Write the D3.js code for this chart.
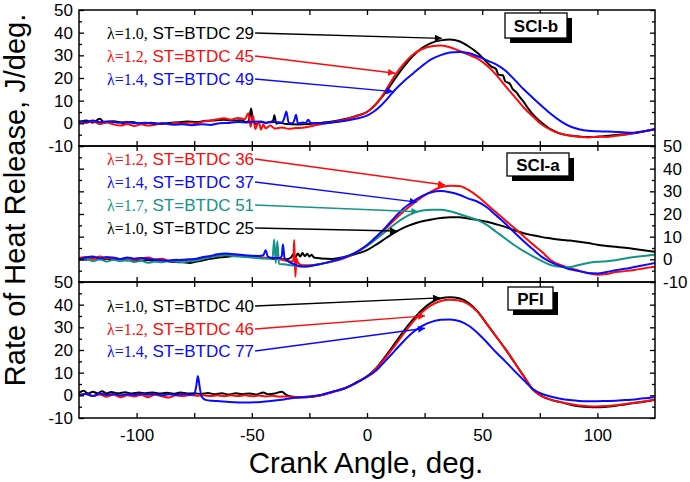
<!DOCTYPE html>
<html><head><meta charset="utf-8">
<script src="https://cdn.jsdelivr.net/npm/d3@7"></script>
<style>
body{margin:0;background:#fff}
svg{display:block}
text{font-family:"Liberation Sans",Arial,sans-serif;fill:#000}
</style>
</head><body>
<svg id="chart" width="690" height="482"></svg>
<script>
// ---------------- DATA ----------------
const angleDomain = [-125, 125];
const rhrDomain = [-10, 50];
const xTickValues = [-100, -50, 0, 50, 100];
const yTickValues = [-10, 0, 10, 20, 30, 40, 50];
const panelNames = ["SCI-b", "SCI-a", "PFI"];

// SCI-b panel
const sciB_lambda = ["λ=1.0,", "λ=1.2,", "λ=1.4,"];
const sciB_st = ["ST=BTDC 29", "ST=BTDC 45", "ST=BTDC 49"];
const sciB_arrowTo = [[32.5, 37.5], [12.2, 22.1], [11.4, 14.0]];
const sciB_l10 = [[-125,0.5],[-122,1.2],[-119,0.3],[-116,2],[-114,0.4],[-110,0.9],[-106,0.2],[-102,0.6],[-98,-0.2],[-94,0.3],[-90,-0.3],[-86,0.2],[-82,0.5],[-78,0.8],[-74,0.6],[-70,1.1],[-66,1.3],[-62,1.6],[-58,1.2],[-55,1.4],[-52,0.6],[-51,2.5],[-50.3,6.5],[-49.5,0.8],[-48,-0.3],[-46,0.8],[-44,0.2],[-42,0.6],[-40.8,1],[-40.2,3.6],[-39.4,-0.2],[-38,0.3],[-35,-0.3],[-30,-0.5],[-25,-0.3],[-20,0.2],[-15,0.8],[-10,1.8],[-5,3.2],[0,5],[3,7.5],[6,11],[9,15],[12,19.5],[16,25],[20,29.8],[24,33.3],[28,35.5],[32,36.6],[36,37],[40,36.2],[44,34],[48,31],[51,28],[54,25],[56,24],[57,21.5],[59,21.2],[60,18.5],[62,17.5],[63,15.5],[65,13.5],[66,12],[68,9.5],[70,6.5],[72.4,3.5],[75,1],[79.6,-2.6],[83,-4.2],[86.8,-5.2],[90,-5.6],[94,-6],[98,-6],[101,-5.8],[105,-5.5],[108,-5.2],[112,-4.8],[115.8,-4.4],[120,-3.6],[125,-2.6]];
const sciB_l12 = [[-125,0.6],[-122,0.2],[-119,0.9],[-116,-0.3],[-113,0.4],[-110,-0.5],[-107,-1],[-104,-0.3],[-101,-1.2],[-98,-0.4],[-95,-1],[-92,-0.6],[-89,0],[-86,-0.4],[-83,0.3],[-80,-0.1],[-77,0.4],[-74,0],[-71,0.8],[-68,1.2],[-65,1.8],[-62,2.2],[-59,1.6],[-56,2.4],[-53,1.8],[-51.5,4.5],[-50.5,-1.5],[-49.5,3.5],[-48.5,-2.5],[-47,0.8],[-46,-2.8],[-45,-0.5],[-44,-2.2],[-42,-1],[-40,-2.3],[-37,-1.8],[-34,-2.4],[-31,-2.1],[-28,-2],[-25,-1.4],[-20,-0.4],[-15,0.5],[-10,1.5],[-5,3],[0,5],[3,7.5],[6,11.2],[9,16],[12,21],[16,26.3],[20,30.4],[24,32.8],[28,34],[32,34.3],[36,33.6],[40,32],[44,30.3],[48,28.5],[52,25.5],[56,21.5],[60,16.5],[64,11.8],[68,7],[72,3],[76,-0.6],[80,-3],[84,-4.6],[88,-5.5],[92,-5.9],[96,-6.2],[100,-5.9],[104,-6],[108,-5.5],[112,-5],[116,-4.3],[120,-3.6],[125,-2.5]];
const sciB_l14 = [[-125,1],[-122,0.6],[-119,1.2],[-116,0.5],[-112,0.9],[-108,0.3],[-104,0.6],[-100,0],[-96,0.3],[-92,-0.2],[-88,0],[-84,-0.6],[-80,-0.4],[-76,-0.8],[-72,-0.4],[-68,-0.7],[-64,0],[-60,0.2],[-56,0.6],[-52,0.4],[-48,0.8],[-44,0.3],[-40,0.6],[-37,0.4],[-36,2],[-35,5.2],[-34,0.3],[-32.5,0],[-31.5,1.5],[-30.8,3.8],[-30,0],[-28,0.4],[-26.5,0.2],[-25.5,1.6],[-24.5,0.2],[-20,0],[-15,0.4],[-10,1],[-5,2],[0,3.4],[3,5.2],[6,7.8],[9,11],[12,14.6],[16,18.6],[20,22],[24,25.4],[28,28.3],[32,30.1],[36,31.2],[40,31.5],[44,31],[48,29.6],[52,27.8],[56,26],[60,23.3],[64,19.3],[68,15],[72,11.2],[76,7.5],[80,4],[84,1],[88,-1.3],[92,-2.6],[96,-3.3],[100,-3.5],[104,-3.6],[108,-3.8],[112,-4],[116,-4.1],[120,-3.5],[125,-2.6]];

// SCI-a panel
const sciA_lambda = ["λ=1.2,", "λ=1.4,", "λ=1.7,", "λ=1.0,"];
const sciA_st = ["ST=BTDC 36", "ST=BTDC 37", "ST=BTDC 51", "ST=BTDC 25"];
const sciA_arrowTo = [[33.9, 32.8], [21.6, 25.2], [22.3, 21.0], [13.0, 12.5]];
const sciA_l12 = [[-125,0.6],[-122,1],[-119,0.2],[-116,1.2],[-113,0.4],[-110,0.8],[-107,0],[-104,0.6],[-101,-0.2],[-98,0.4],[-95,0.8],[-92,0],[-89,0.3],[-86,-0.5],[-83,-0.2],[-80,-0.4],[-77,-0.6],[-74,-0.2],[-71,0.5],[-68,1],[-65,1.6],[-62,2],[-59,2.1],[-56,1.8],[-53,1.4],[-50,1.1],[-47,0.9],[-44,0.7],[-41,0.5],[-38,0],[-35,-0.6],[-33,-1],[-32,-0.5],[-31.6,8.5],[-31.1,-7.7],[-30.6,0.5],[-30,-1.5],[-28,-2.6],[-25,-2.6],[-20,-2],[-15,-1],[-10,0.4],[-5,2.8],[0,6],[4,9.5],[8,13.5],[12,17.5],[16,21.2],[20,24.5],[24,27.5],[28,30],[32,31.8],[36,32.5],[40,32.4],[44,30.6],[48,27.8],[52,24.3],[56,20.8],[60,17.2],[64,13.8],[68,10.2],[72,6.6],[76,3.2],[80,-0.5],[84,-2.5],[88,-3.8],[92,-5],[96,-6.2],[100,-6.8],[104,-6.5],[108,-5.6],[112,-5.2],[116,-4.7],[120,-4],[125,-3.3]];
const sciA_l14 = [[-125,0],[-122,0.8],[-119,1.2],[-116,0.5],[-113,1],[-110,0.6],[-107,0.2],[-104,0.8],[-101,0.3],[-98,0.6],[-95,0.2],[-92,-0.2],[-89,-0.4],[-86,-0.6],[-83,-0.3],[-80,-0.2],[-77,0],[-74,0.3],[-71,1],[-68,1.5],[-65,2.2],[-62,2.6],[-59,2.4],[-56,2.1],[-53,1.8],[-50,1.6],[-47,1.5],[-45,1.8],[-44,4],[-43,1.2],[-41,0.6],[-38,0.6],[-37,1.5],[-36.5,6.6],[-35.8,0.6],[-34,-1],[-31,-2.4],[-28,-3.2],[-25,-3],[-20,-2],[-15,-0.8],[-10,0.8],[-5,3],[0,6.3],[4,10],[8,14],[12,18.5],[16,22.5],[20,25.5],[24,28],[28,29.6],[32,30.1],[36,29.6],[40,28.5],[44,26.8],[48,25.4],[52,23],[56,19.4],[60,15.8],[64,11.8],[68,8],[72,4.4],[76,1],[80,-1.3],[84,-3],[88,-4.4],[92,-5.2],[96,-6],[100,-6.2],[104,-5.6],[108,-4.8],[112,-4.2],[116,-3.4],[120,-2.6],[125,-1.6]];
const sciA_l17 = [[-125,-0.4],[-122,0.3],[-119,-0.8],[-116,0],[-113,-1],[-110,-0.2],[-107,-0.8],[-104,-0.3],[-101,-1.2],[-98,-0.6],[-95,-1.5],[-92,-1],[-89,-1.3],[-86,-0.7],[-83,-1],[-80,-1.2],[-77,-0.8],[-74,-0.5],[-71,0.2],[-68,1],[-65,1.4],[-62,1.8],[-59,1.6],[-56,1.3],[-53,1],[-50,0.8],[-47,0.5],[-44,0.4],[-41,0.5],[-40.3,8.8],[-39.6,-1.6],[-38.9,8],[-38.2,-2],[-36,-2.2],[-33,-2.6],[-30,-3],[-27,-3.2],[-24,-2.8],[-20,-2],[-15,-0.8],[-10,0.8],[-5,3],[0,6],[4,9],[8,12.2],[12,15.5],[16,18.3],[20,20.4],[24,21.5],[28,21.9],[32,21.9],[36,21.2],[40,20],[44,18.7],[48,17.3],[52,15.2],[56,12.2],[60,9.2],[64,6.2],[68,3.6],[72,1.3],[76,-0.8],[80,-2.6],[84,-3.3],[88,-3.4],[92,-2.5],[96,-1.6],[100,-1.1],[104,-0.8],[108,-0.4],[112,0.4],[116,1],[120,1.5],[125,2]];
const sciA_l10 = [[-125,0.4],[-122,-0.2],[-119,0.6],[-116,0],[-113,0.3],[-110,-0.2],[-107,0.2],[-104,-0.5],[-101,-0.2],[-98,-0.6],[-95,-0.3],[-92,-0.8],[-89,-0.5],[-86,-1],[-83,-1.2],[-80,-1.3],[-77,-1.6],[-74,-1],[-71,-0.4],[-68,0.2],[-65,0.7],[-62,1],[-59,1.4],[-56,1.6],[-53,1.2],[-50,1],[-47,0.8],[-44,0.6],[-41,0.3],[-38,0.1],[-35,0],[-33,0.8],[-32,2.2],[-31,1],[-30,2.6],[-29,1.2],[-28,2.8],[-27,1.4],[-26,2.5],[-25,1.2],[-24,2],[-23,0.8],[-20,0.4],[-15,0.2],[-10,1],[-5,2.3],[0,4.1],[4,6.5],[8,9.2],[12,11.8],[16,14],[20,15.6],[24,16.8],[28,17.6],[32,18.2],[36,18.6],[40,18.6],[44,18],[48,17.4],[52,16.6],[56,15.5],[60,14.3],[64,12.8],[68,11.5],[72,10.6],[76,9.8],[80,9.2],[84,8.6],[88,8.3],[92,7.8],[96,7.2],[100,6.4],[104,5.9],[108,5.5],[112,5.1],[116,4.6],[120,4],[125,3.3]];

// PFI panel
const pfi_lambda = ["λ=1.0,", "λ=1.2,", "λ=1.4,"];
const pfi_st = ["ST=BTDC 40", "ST=BTDC 46", "ST=BTDC 77"];
const pfi_arrowTo = [[31.7, 43.0], [25.2, 35.1], [25.2, 29.6]];
const pfi_l10 = [[-125,1],[-123,2],[-121,0.8],[-119,1.6],[-117,0.9],[-115,1.8],[-113,0.8],[-111,1.5],[-108,0.9],[-105,1.4],[-102,0.8],[-99,1.2],[-96,0.9],[-93,1.3],[-90,0.8],[-87,1.1],[-84,0.7],[-81,1.2],[-78,0.8],[-75,0.9],[-72,0.6],[-69,1],[-66,0.5],[-63,0.9],[-60,0.4],[-57,0.9],[-54,0.5],[-51,0.8],[-48,0.4],[-45,1.3],[-43,0.5],[-40,0.8],[-37,1.6],[-35,0.2],[-32,-0.6],[-28,-0.9],[-24,-0.6],[-20,0],[-15,1.5],[-10,3],[-5,5.5],[0,8.4],[4,12],[8,17.2],[12,22.8],[16,28.5],[20,33.5],[24,37.8],[28,41],[32,42.8],[36,43.3],[40,42.8],[44,40.8],[48,37],[52,31.5],[56,26],[60,20.5],[64,14.5],[68,8.5],[72,2.5],[76,-0.5],[80,-2],[84,-3],[88,-4],[92,-4.8],[96,-5.2],[100,-5.3],[104,-5],[108,-4.6],[112,-4],[116,-3.4],[120,-2.8],[125,-1.9]];
const pfi_l12 = [[-125,0.2],[-122,0.6],[-119,-0.3],[-116,0.4],[-113,-0.6],[-110,0.3],[-107,-0.8],[-104,0],[-101,-0.5],[-98,0.2],[-95,-0.8],[-92,0.3],[-89,-0.4],[-86,-1],[-83,0],[-80,-0.3],[-77,0.2],[-74,-0.2],[-71,0],[-68,-0.3],[-65,0],[-62,-0.4],[-59,0],[-56,-0.3],[-53,0],[-50,-0.4],[-47,-0.1],[-44,-0.5],[-41,-0.2],[-38,-0.6],[-35,-0.5],[-32,-0.8],[-28,-0.9],[-24,-0.6],[-20,0],[-15,1.4],[-10,2.9],[-5,5.3],[0,8.2],[4,11.7],[8,16.6],[12,21.8],[16,27.3],[20,32.5],[24,36.8],[28,39.8],[32,41.6],[36,42.2],[40,41.8],[44,40.2],[48,36.8],[52,31.5],[56,26],[60,20.5],[64,14.5],[68,8.5],[72,2.5],[76,-0.5],[80,-2],[84,-3],[88,-3.8],[92,-4.5],[96,-4.8],[100,-4.9],[104,-4.7],[108,-4.4],[112,-3.8],[116,-3.3],[120,-2.7],[125,-1.9]];
const pfi_l14 = [[-125,0],[-122,0.6],[-119,-0.3],[-116,0.8],[-113,0.2],[-110,0.6],[-107,0],[-104,0.5],[-101,0.2],[-98,0.7],[-95,0.3],[-92,0.6],[-89,0],[-86,0.5],[-83,0.2],[-80,0.6],[-77,0.3],[-75,0.5],[-74.2,3.5],[-73.4,8.5],[-72.6,3.5],[-71.8,-0.5],[-70,-2],[-67,-2.4],[-64,-2.6],[-61,-2.8],[-58,-3],[-55,-3.2],[-52,-3.2],[-49,-3.1],[-46,-2.9],[-43,-2.6],[-40,-2.3],[-36,-1.8],[-32,-1.2],[-28,-0.8],[-24,-0.4],[-20,0.2],[-15,1.6],[-10,3],[-5,5.3],[0,8.2],[4,11],[8,15.2],[12,19.6],[16,24],[20,27.8],[24,30.6],[28,32.4],[32,33.3],[36,33.5],[40,32.8],[44,30.8],[48,27.5],[52,23.4],[56,19],[60,15],[64,10.8],[68,6.7],[72,2.8],[76,0.6],[80,-0.6],[84,-1.5],[88,-2.1],[92,-2.5],[96,-2.6],[100,-2.6],[104,-2.5],[108,-2.4],[112,-2.1],[116,-1.8],[120,-1.3],[125,-0.8]];

// ---------------- LAYOUT / STYLE ----------------
const plotLeft = 79, plotRight = 655;
const panelBands = [[10, 146], [146, 282], [282, 418]];
const C = {black: "#000000", red: "#ff0a0a", blue: "#0a0aff", teal: "#139486"};

const panels = [
  {name: panelNames[0], band: panelBands[0], labelSide: "left",
   box: {x: 505, y: 13, w: 62, h: 25},
   legendY: [39, 62, 85],
   series: [
     {data: sciB_l10, color: C.black, lam: sciB_lambda[0], st: sciB_st[0], to: sciB_arrowTo[0], leg: 0},
     {data: sciB_l12, color: C.red,   lam: sciB_lambda[1], st: sciB_st[1], to: sciB_arrowTo[1], leg: 1},
     {data: sciB_l14, color: C.blue,  lam: sciB_lambda[2], st: sciB_st[2], to: sciB_arrowTo[2], leg: 2}
   ]},
  {name: panelNames[1], band: panelBands[1], labelSide: "right",
   box: {x: 507, y: 153, w: 62, h: 23},
   legendY: [165, 188, 211, 234],
   series: [
     {data: sciA_l10, color: C.black, lam: sciA_lambda[3], st: sciA_st[3], to: sciA_arrowTo[3], leg: 3},
     {data: sciA_l12, color: C.red,   lam: sciA_lambda[0], st: sciA_st[0], to: sciA_arrowTo[0], leg: 0},
     {data: sciA_l17, color: C.teal,  lam: sciA_lambda[2], st: sciA_st[2], to: sciA_arrowTo[2], leg: 2},
     {data: sciA_l14, color: C.blue,  lam: sciA_lambda[1], st: sciA_st[1], to: sciA_arrowTo[1], leg: 1}
   ]},
  {name: panelNames[2], band: panelBands[2], labelSide: "left",
   box: {x: 508, y: 287, w: 45, h: 23},
   legendY: [312, 335, 357],
   series: [
     {data: pfi_l10, color: C.black, lam: pfi_lambda[0], st: pfi_st[0], to: pfi_arrowTo[0], leg: 0},
     {data: pfi_l12, color: C.red,   lam: pfi_lambda[1], st: pfi_st[1], to: pfi_arrowTo[1], leg: 1},
     {data: pfi_l14, color: C.blue,  lam: pfi_lambda[2], st: pfi_st[2], to: pfi_arrowTo[2], leg: 2}
   ]}
];

const svg = d3.select("#chart");
const x = d3.scaleLinear().domain(angleDomain).range([plotLeft, plotRight]);
const defs = svg.append("defs");

Object.entries(C).forEach(([k, col]) => {
  defs.append("marker").attr("id", "arr-" + k)
    .attr("viewBox", "0 0 10 10").attr("refX", 10).attr("refY", 5)
    .attr("markerWidth", 10).attr("markerHeight", 7).attr("markerUnits", "userSpaceOnUse")
    .attr("orient", "auto")
    .append("path").attr("d", "M0,0 L10,5 L0,10 Z").attr("fill", col);
});
const colorKey = col => Object.keys(C).find(k => C[k] === col);

const majorY = d3.range(-10, 51, 10);
const minorY = d3.range(-5, 50, 10);
const xTicks25 = d3.range(-100, 101, 25);

function styleAxis(g) {
  g.selectAll("path.domain").remove();
  g.selectAll("line").attr("stroke", "#000").attr("stroke-width", 1.3);
}

panels.forEach((p, pi) => {
  const [top, bot] = p.band;
  const y = d3.scaleLinear().domain(rhrDomain).range([bot, top]);
  const g = svg.append("g");

  const clipId = "clip" + pi;
  defs.append("clipPath").attr("id", clipId).append("rect")
    .attr("x", plotLeft).attr("y", top).attr("width", plotRight - plotLeft).attr("height", bot - top);

  const line = d3.line().x(d => x(d[0])).y(d => y(d[1])).curve(d3.curveMonotoneX);
  const cg = g.append("g").attr("clip-path", `url(#${clipId})`);
  p.series.forEach(s => {
    cg.append("path").datum(s.data).attr("d", line)
      .attr("fill", "none").attr("stroke", s.color).attr("stroke-width", 2)
      .attr("stroke-linejoin", "round");
  });

  g.append("g").attr("transform", `translate(${plotLeft},0)`)
    .call(d3.axisRight(y).tickValues(majorY).tickSize(5).tickFormat("")).call(styleAxis);
  g.append("g").attr("transform", `translate(${plotLeft},0)`)
    .call(d3.axisRight(y).tickValues(minorY).tickSize(3).tickFormat("")).call(styleAxis);
  g.append("g").attr("transform", `translate(${plotRight},0)`)
    .call(d3.axisLeft(y).tickValues(majorY).tickSize(5).tickFormat("")).call(styleAxis);
  g.append("g").attr("transform", `translate(${plotRight},0)`)
    .call(d3.axisLeft(y).tickValues(minorY).tickSize(3).tickFormat("")).call(styleAxis);
  g.append("g").attr("transform", `translate(0,${top})`)
    .call(d3.axisBottom(x).tickValues(xTicks25).tickSize(5).tickFormat("")).call(styleAxis);
  g.append("g").attr("transform", `translate(0,${bot})`)
    .call(d3.axisTop(x).tickValues(xTicks25).tickSize(5).tickFormat("")).call(styleAxis);

  const lab = p.labelSide === "left"
    ? d3.axisLeft(y).tickValues(yTickValues).tickSize(0).tickPadding(6).tickFormat(d => String(d))
    : d3.axisRight(y).tickValues(yTickValues).tickSize(0).tickPadding(8).tickFormat(d => String(d));
  const lg = g.append("g").attr("transform", `translate(${p.labelSide === "left" ? plotLeft : plotRight},0)`).call(lab);
  lg.selectAll("path.domain").remove();
  lg.selectAll("text").attr("font-size", 17).attr("font-family", "Liberation Sans, Arial, sans-serif").attr("fill", "#000");

  g.append("rect").attr("x", plotLeft).attr("y", top).attr("width", plotRight - plotLeft).attr("height", bot - top)
    .attr("fill", "none").attr("stroke", "#000").attr("stroke-width", 1.5);

  p.series.forEach(s => {
    const ty = p.legendY[s.leg];
    const t = g.append("text").attr("x", 107).attr("y", ty).attr("fill", s.color);
    t.append("tspan").attr("font-family", "Liberation Serif, Times New Roman, serif").attr("font-size", 16)
      .attr("fill", s.color).text(s.lam);
    t.append("tspan").attr("font-size", 17).attr("fill", s.color).text(" " + s.st);
    const end = 107 + t.node().getComputedTextLength();
    g.append("line").attr("x1", end + 1).attr("y1", ty - 6)
      .attr("x2", x(s.to[0])).attr("y2", y(s.to[1]))
      .attr("stroke", s.color).attr("stroke-width", 1.3)
      .attr("marker-end", `url(#arr-${colorKey(s.color)})`);
  });

  const b = p.box;
  g.append("rect").attr("x", b.x + 5).attr("y", b.y + 5).attr("width", b.w).attr("height", b.h).attr("fill", "#000");
  g.append("rect").attr("x", b.x).attr("y", b.y).attr("width", b.w).attr("height", b.h)
    .attr("fill", "#fff").attr("stroke", "#000").attr("stroke-width", 1.3);
  g.append("text").attr("x", b.x + b.w / 2).attr("y", b.y + b.h / 2 + 6)
    .attr("text-anchor", "middle").attr("font-weight", "bold").attr("font-size", 17).text(p.name);
});

const xl = svg.append("g").attr("transform", `translate(0,${panelBands[2][1]})`)
  .call(d3.axisBottom(x).tickValues(xTickValues).tickSize(0).tickPadding(11).tickFormat(d => String(d)));
xl.selectAll("path.domain").remove();
xl.selectAll("text").attr("font-size", 17).attr("font-family", "Liberation Sans, Arial, sans-serif").attr("fill", "#000");

svg.append("text").attr("x", 366).attr("y", 473)
  .attr("text-anchor", "middle").attr("font-size", 29.5).text("Crank Angle, deg.");
svg.append("text").attr("transform", "translate(25,200) rotate(-90)")
  .attr("text-anchor", "middle").attr("font-size", 29).text("Rate of Heat Release, J/deg.");
</script>
</body></html>
